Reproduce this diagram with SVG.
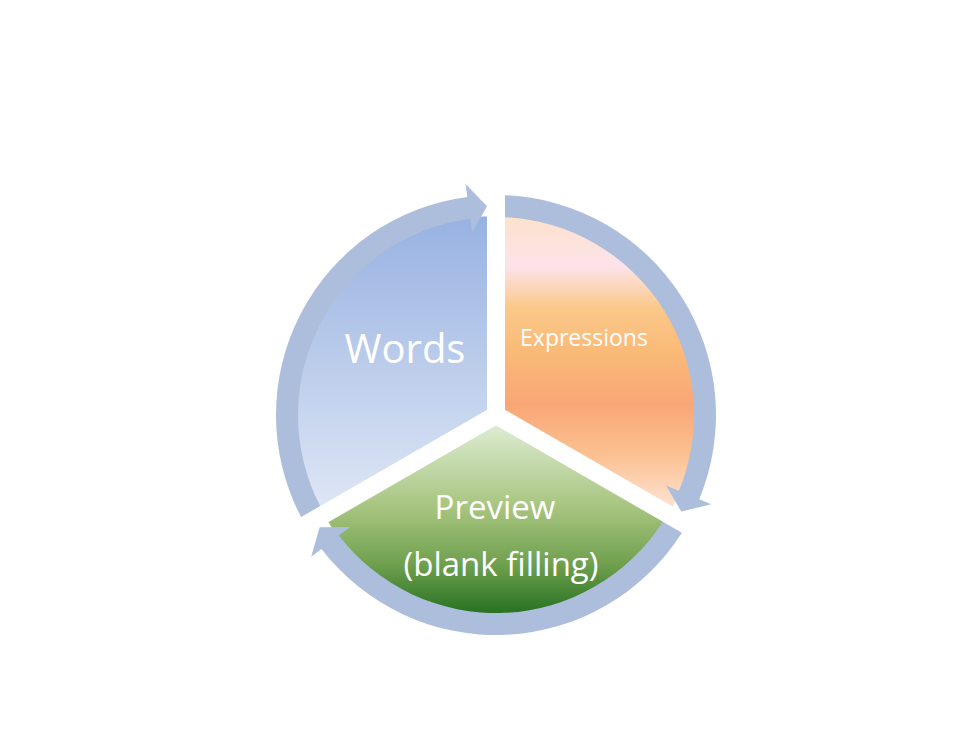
<svg xmlns="http://www.w3.org/2000/svg" width="980" height="735" viewBox="0 0 980 735">
  <defs>
    <linearGradient id="gWords" x1="0" y1="219" x2="0" y2="513" gradientUnits="userSpaceOnUse">
      <stop offset="0" stop-color="#98B2E2"/>
      <stop offset="0.5" stop-color="#BCCDEB"/>
      <stop offset="1" stop-color="#DFE7F6"/>
    </linearGradient>
    <linearGradient id="gExpr" x1="0" y1="219" x2="0" y2="513" gradientUnits="userSpaceOnUse">
      <stop offset="0" stop-color="#FDE2CC"/>
      <stop offset="0.16" stop-color="#FCE3EA"/>
      <stop offset="0.3" stop-color="#FAC98A"/>
      <stop offset="0.45" stop-color="#FABA78"/>
      <stop offset="0.63" stop-color="#F9A676"/>
      <stop offset="0.8" stop-color="#FBC090"/>
      <stop offset="0.93" stop-color="#FDD9C0"/>
      <stop offset="1" stop-color="#FDE6DC"/>
    </linearGradient>
    <linearGradient id="gPrev" x1="0" y1="425" x2="0" y2="611" gradientUnits="userSpaceOnUse">
      <stop offset="0" stop-color="#DDECD2"/>
      <stop offset="0.45" stop-color="#A6C47E"/>
      <stop offset="0.75" stop-color="#6FA04E"/>
      <stop offset="1" stop-color="#2A7424"/>
    </linearGradient>
    <path id="arrowShape" d="M-194.9,102.1 A220,220 0 0 1 -28.7,-218.1 L-30.4,-231.0 L-9.0,-208.8 L-24.0,-182.4 L-25.8,-196.3 A198,198 0 0 0 -175.8,91.1 Z"/>
  </defs>
  <style>
    .lbl { fill: #FFFFFF; font-family: "Open Sans", "Liberation Sans", sans-serif; text-anchor: middle; }
    .arrow { fill: #ADBEDC; }
    .gap { stroke: #FFFFFF; stroke-width: 18; }
  </style>
  <rect width="980" height="735" fill="#FFFFFF"/>

  <g id="node-words">
    <path d="M496,415 L323.7,514.5 A199,199 0 0 1 496,216 Z" fill="url(#gWords)"/>
  </g>
  <g id="node-expressions">
    <path d="M496,415 L496,216 A199,199 0 0 1 668.3,514.5 Z" fill="url(#gExpr)"/>
  </g>
  <g id="node-preview">
    <path d="M496,415 L668.3,514.5 A199,199 0 0 1 323.7,514.5 Z" fill="url(#gPrev)"/>
  </g>
  <g id="gaps">
    <line class="gap" x1="496" y1="415" x2="496" y2="205"/>
    <line class="gap" x1="496" y1="415" x2="677.9" y2="520"/>
    <line class="gap" x1="496" y1="415" x2="314.1" y2="520"/>
  </g>

  <g id="connectors" transform="translate(496,415)">
    <use href="#arrowShape" class="arrow"/>
    <use href="#arrowShape" class="arrow" transform="rotate(120)"/>
    <use href="#arrowShape" class="arrow" transform="rotate(240)"/>
  </g>

  <g id="labels">
    <text class="lbl" x="405" y="363" font-size="40">Words</text>
    <text class="lbl" x="584" y="346" font-size="23">Expressions</text>
    <text class="lbl" x="495" y="519" font-size="33">Preview</text>
    <text class="lbl" x="501" y="576" font-size="33">(blank filling)</text>
  </g>
</svg>
